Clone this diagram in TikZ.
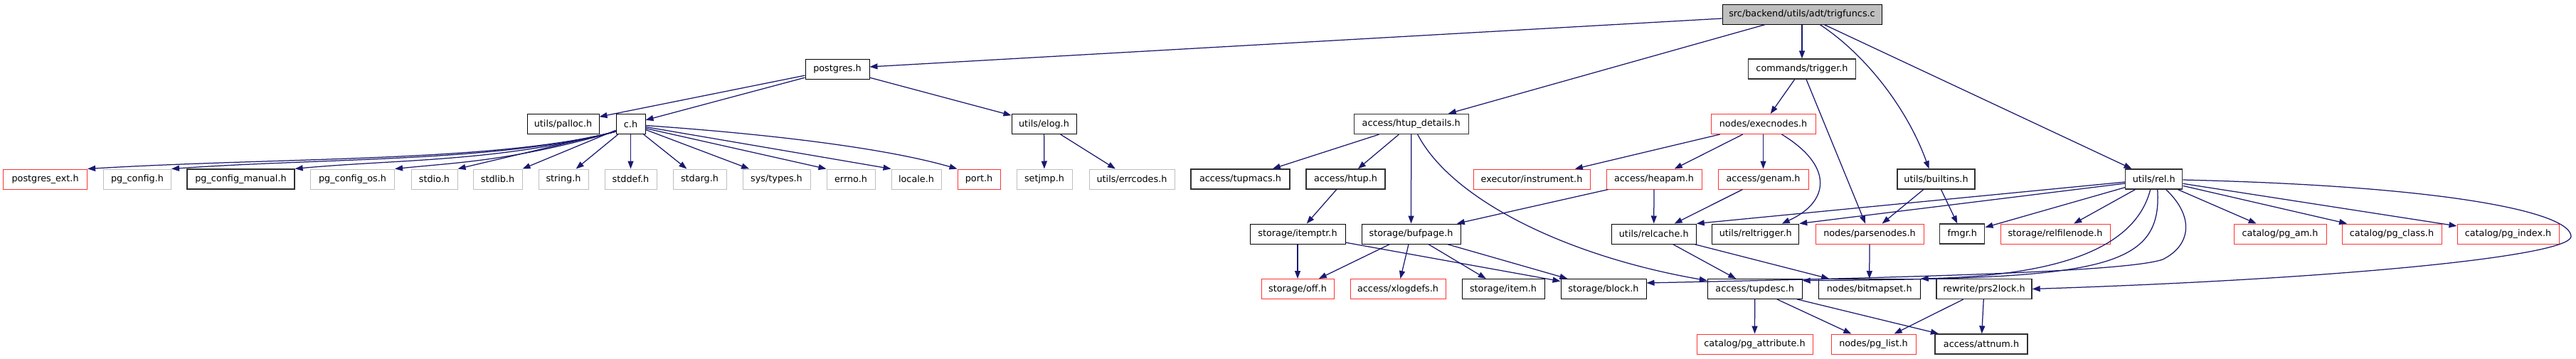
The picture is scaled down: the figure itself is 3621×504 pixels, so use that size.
\documentclass[tikz,border=0pt]{standalone}
\usepackage{fontspec}
\setmainfont{DejaVu Sans}
\usetikzlibrary{arrows.meta}
\definecolor{edgecol}{HTML}{191970}
\definecolor{nred}{HTML}{FF3333}
\definecolor{ngray}{HTML}{BFBFBF}
\definecolor{ndark}{HTML}{303030}
\begin{document}
\begin{tikzpicture}[x=1pt,y=-1pt,
  box/.style={draw=black,fill=white,line width=1pt,minimum height=28pt,inner sep=0pt,font=\fontsize{12.8}{14}\selectfont},
  redbox/.style={box,draw=nred},
  graybox/.style={box,draw=ngray},
  darkbox/.style={box,draw=ndark,line width=1.3pt},
  dep/.style={draw=edgecol,line width=1.25pt,-{Triangle[length=11pt,width=8pt]}},
]
\useasboundingbox (0,0) rectangle (3621,504);
% row 0
\node[box,fill=ngray,minimum width=224pt] (trig) at (2533,20) {src/backend/utils/adt/trigfuncs.c};
% row 1
\node[box,minimum width=90pt] (postgres) at (1177,97) {postgres.h};
\node[darkbox,minimum width=151pt] (trigger) at (2533,97) {commands/trigger.h};
% row 2
\node[box,minimum width=101pt] (palloc) at (791.5,174.5) {utils/palloc.h};
\node[box,minimum width=41pt] (c) at (886.5,174.5) {c.h};
\node[box,minimum width=91pt] (elog) at (1467.5,174.5) {utils/elog.h};
\node[darkbox,minimum width=161pt] (htupd) at (1983.7,174.5) {access/htup\_details.h};
\node[redbox,minimum width=147pt] (execnodes) at (2478.5,174.5) {nodes/execnodes.h};
% row 3
\node[redbox,minimum width=118pt] (pgext) at (63.6,252) {postgres\_ext.h};
\node[graybox,minimum width=95pt] (pgconfig) at (193,252) {pg\_config.h};
\node[darkbox,minimum width=151pt] (pgmanual) at (338.5,252) {pg\_config\_manual.h};
\node[graybox,minimum width=118pt] (pgos) at (495.5,252) {pg\_config\_os.h};
\node[graybox,minimum width=65pt] (stdio) at (610.5,252) {stdio.h};
\node[graybox,minimum width=69pt] (stdlib) at (699.5,252) {stdlib.h};
\node[graybox,minimum width=70pt] (string) at (792,252) {string.h};
\node[graybox,minimum width=73pt] (stddef) at (886.5,252) {stddef.h};
\node[graybox,minimum width=75pt] (stdarg) at (983.5,252) {stdarg.h};
\node[graybox,minimum width=95pt] (systypes) at (1091.5,252) {sys/types.h};
\node[graybox,minimum width=68pt] (errno) at (1196,252) {errno.h};
\node[graybox,minimum width=70pt] (locale) at (1288,252) {locale.h};
\node[redbox,minimum width=60pt] (port) at (1376,252) {port.h};
\node[graybox,minimum width=78pt] (setjmp) at (1468,252) {setjmp.h};
\node[graybox,minimum width=120pt] (errcodes) at (1591,252) {utils/errcodes.h};
\node[darkbox,minimum width=139pt] (tupmacs) at (1743.5,252) {access/tupmacs.h};
\node[darkbox,minimum width=111pt] (htup) at (1891.5,252) {access/htup.h};
\node[redbox,minimum width=164pt] (instrument) at (2153,252) {executor/instrument.h};
\node[redbox,minimum width=134pt] (heapam) at (2325,252) {access/heapam.h};
\node[redbox,minimum width=127pt] (genam) at (2478.5,252) {access/genam.h};
\node[darkbox,minimum width=109pt] (builtins) at (2721.5,252) {utils/builtins.h};
\node[darkbox,minimum width=80pt] (rel) at (3027.7,252) {utils/rel.h};
% row 4
\node[box,minimum width=134pt] (itemptr) at (1824,329) {storage/itemptr.h};
\node[box,minimum width=139pt] (bufpage) at (1983.5,329) {storage/bufpage.h};
\node[box,minimum width=119pt] (relcache) at (2324.7,329) {utils/relcache.h};
\node[box,minimum width=122pt] (reltrigger) at (2467.7,329) {utils/reltrigger.h};
\node[redbox,minimum width=152pt] (parsenodes) at (2628,329) {nodes/parsenodes.h};
\node[darkbox,minimum width=63pt] (fmgr) at (2758.3,329) {fmgr.h};
\node[redbox,minimum width=154pt] (relfilenode) at (2889,329) {storage/relfilenode.h};
\node[redbox,minimum width=130pt] (pgam) at (3205,329) {catalog/pg\_am.h};
\node[redbox,minimum width=140pt] (pgclass) at (3362,329) {catalog/pg\_class.h};
\node[redbox,minimum width=143pt] (pgindex) at (3525.5,329) {catalog/pg\_index.h};
% row 5
\node[redbox,minimum width=102pt] (off) at (1824,406.5) {storage/off.h};
\node[redbox,minimum width=134pt] (xlogdefs) at (1965,406.5) {access/xlogdefs.h};
\node[box,minimum width=116pt] (item) at (2113,406.5) {storage/item.h};
\node[box,minimum width=120pt] (block) at (2254,406.5) {storage/block.h};
\node[box,minimum width=133pt] (tupdesc) at (2466.7,406.5) {access/tupdesc.h};
\node[box,minimum width=143pt] (bitmapset) at (2627.7,406.5) {nodes/bitmapset.h};
\node[darkbox,minimum width=134pt] (prs2lock) at (2789,406.5) {rewrite/prs2lock.h};
% row 6
\node[redbox,minimum width=163pt] (pgattr) at (2466.5,484) {catalog/pg\_attribute.h};
\node[redbox,minimum width=119pt] (pglist) at (2633.5,484) {nodes/pg\_list.h};
\node[darkbox,minimum width=130pt] (attnum) at (2785,484) {access/attnum.h};
% helper coordinates
\coordinate (loopr) at (3614,333);
\coordinate (relc) at (3040,365);
% edges from trigfuncs.c
\draw[dep] ([yshift=-6pt]trig.west) -- ([yshift=3pt]postgres.east);
\draw[dep] (trig) -- (htupd);
\draw[dep] (trig) -- (trigger);
\draw[dep] ([xshift=25pt]trig.south) .. controls (2620,75) and (2680,150) .. ([xshift=-10pt]builtins.north);
\draw[dep] (trig) -- (rel);
% postgres.h
\draw[dep] (postgres) -- (palloc);
\draw[dep] (postgres) -- (c);
\draw[dep] (postgres) -- (elog);
% c.h
\draw[dep] ([yshift=4pt]c.south west) .. controls (700,228) and (400,221) .. (pgext.north east);
\draw[dep] ([yshift=4pt]c.south west) .. controls (700,228) and (460,222) .. (pgconfig.north east);
\draw[dep] ([yshift=4pt]c.south west) .. controls (700,228) and (560,224) .. (pgmanual.north east);
\draw[dep] ([yshift=4pt]c.south west) .. controls (720,226) and (650,228) .. (pgos.north east);
\draw[dep] ([yshift=4pt]c.south west) -- (stdio.north east);
\draw[dep] (c) -- (stdlib);
\draw[dep] (c) -- (string);
\draw[dep] (c) -- (stddef);
\draw[dep] (c) -- (stdarg);
\draw[dep] (c) -- (systypes);
\draw[dep] ([yshift=-6pt]c.east) -- (errno.north west);
\draw[dep] ([yshift=-4pt]c.east) -- (locale.north west);
\draw[dep] ([yshift=-2pt]c.east) .. controls (1100,190) and (1250,210) .. (port.north west);
% utils/elog.h
\draw[dep] (elog) -- (setjmp);
\draw[dep] (elog) -- (errcodes);
% access/htup_details.h
\draw[dep] (htupd) -- (tupmacs);
\draw[dep] (htupd) -- (htup);
\draw[dep] (htupd) -- (bufpage);
\draw[dep] ([xshift=9pt]htupd.south) .. controls (2040,280) and (2200,360) .. (tupdesc.170);
% access/htup.h, storage/itemptr.h
\draw[dep] (htup) -- (itemptr);
\draw[dep] (itemptr) -- (off);
\draw[dep] (itemptr) -- (block);
% storage/bufpage.h
\draw[dep] (bufpage) -- (off);
\draw[dep] (bufpage) -- (xlogdefs);
\draw[dep] (bufpage) -- (item);
\draw[dep] (bufpage) -- (block);
% commands/trigger.h
\draw[dep] (trigger) -- (execnodes);
\draw[dep] (trigger) -- (parsenodes);
% nodes/execnodes.h
\draw[dep] (execnodes) -- (instrument);
\draw[dep] (execnodes) -- (heapam);
\draw[dep] (execnodes) -- (genam);
\draw[dep] ([xshift=26pt]execnodes.south) .. controls (2580,235) and (2570,285) .. ([xshift=37pt]reltrigger.north);
% access/heapam.h, access/genam.h
\draw[dep] (heapam) -- (bufpage);
\draw[dep] (heapam) -- (relcache);
\draw[dep] (genam) -- (relcache);
% utils/relcache.h
\draw[dep] (relcache) -- (tupdesc);
\draw[dep] (relcache) -- (bitmapset);
% utils/builtins.h
\draw[dep] (builtins) -- (parsenodes);
\draw[dep] (builtins) -- (fmgr);
% nodes/parsenodes.h
\draw[dep] (parsenodes) -- (bitmapset);
% utils/rel.h
\draw[dep] ([yshift=-4pt]rel.west) -- (relcache.north east);
\draw[dep] ([yshift=-6pt]rel.west) -- (reltrigger.north east);
\draw[dep] (rel) -- (fmgr);
\draw[dep] (rel) -- (relfilenode);
\draw[dep] (rel) -- (pgam);
\draw[dep] (rel) -- (pgclass);
\draw[dep] (rel) -- (pgindex);
\draw[dep] ([yshift=-1pt]rel.east) .. controls (3450,262) and (3615,300) .. (loopr) .. controls (3610,360) and (3300,392) .. (prs2lock.east);
\draw[dep] ([xshift=-5pt]rel.south) .. controls (3000,355) and (2880,388) .. (bitmapset.north east);
\draw[dep] ([xshift=5pt]rel.south) .. controls (3040,380) and (2950,392) .. (tupdesc.10);
\draw[dep] ([xshift=17pt]rel.south) .. controls (3085,305) and (3080,345) .. (relc) .. controls (2990,382) and (2700,390) .. (block.8);
% access/tupdesc.h
\draw[dep] (tupdesc) -- (pgattr);
\draw[dep] (tupdesc) -- (pglist);
\draw[dep] (tupdesc) -- (attnum);
% rewrite/prs2lock.h
\draw[dep] (prs2lock) -- (pglist);
\draw[dep] (prs2lock) -- (attnum);
\end{tikzpicture}
\end{document}
